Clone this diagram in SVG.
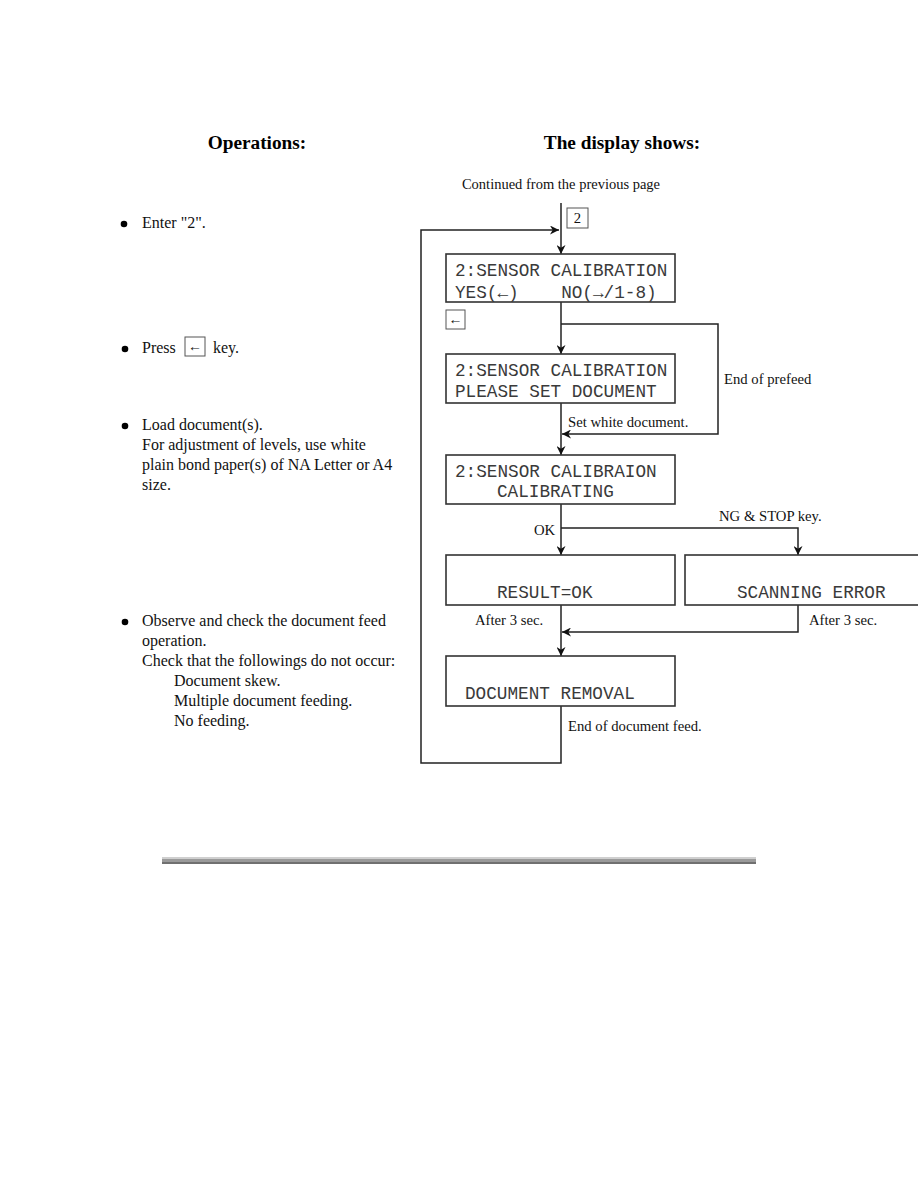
<svg xmlns="http://www.w3.org/2000/svg" width="918" height="1188" viewBox="0 0 918 1188">
<style>
.h{font-family:"Liberation Serif",serif;font-weight:bold;font-size:19.3px;fill:#000}
.t{font-family:"Liberation Serif",serif;font-size:16px;fill:#111}
.s{font-family:"Liberation Serif",serif;font-size:14.7px;fill:#111}
.m{font-family:"Liberation Mono",monospace;font-size:17.7px;fill:#3a3a3a;white-space:pre}
.box{fill:#fff;stroke:#333;stroke-width:1.6}
.key{fill:#fff;stroke:#555;stroke-width:1}
.ln{fill:none;stroke:#222;stroke-width:1.5}
</style>
<defs>
<marker id="ah" viewBox="0 0 10 10" refX="10" refY="5" markerWidth="10" markerHeight="9" markerUnits="userSpaceOnUse" orient="auto">
<path d="M0,0 L10,5 L0,10 L3,5 Z" fill="#111"/>
</marker>
</defs>
<rect width="918" height="1188" fill="#fff"/>
<g id="headers">
<text class="h" x="257" y="149" text-anchor="middle">Operations:</text>
<text class="h" x="622" y="149" text-anchor="middle">The display shows:</text>
<text class="s" x="561" y="189" text-anchor="middle" style="font-size:14.5px">Continued from the previous page</text>
</g>
<g id="operations">
<circle cx="124" cy="224" r="3.3" fill="#000"/>
<text class="t" x="142" y="228">Enter "2".</text>
<circle cx="125" cy="349" r="3.3" fill="#000"/>
<text class="t" x="142" y="353">Press</text>
<rect class="key" x="185" y="337" width="20" height="19"/>
<text class="t" x="195" y="351" text-anchor="middle" style="font-size:14px">←</text>
<text class="t" x="213" y="353">key.</text>
<circle cx="125" cy="426" r="3.3" fill="#000"/>
<text class="t" x="142" y="430">Load document(s).</text>
<text class="t" x="142" y="450">For adjustment of levels, use white</text>
<text class="t" x="142" y="470">plain bond paper(s) of NA Letter or A4</text>
<text class="t" x="142" y="490">size.</text>
<circle cx="125" cy="622" r="3.3" fill="#000"/>
<text class="t" x="142" y="626">Observe and check the document feed</text>
<text class="t" x="142" y="646">operation.</text>
<text class="t" x="142" y="666">Check that the followings do not occur:</text>
<text class="t" x="174" y="686">Document skew.</text>
<text class="t" x="174" y="706">Multiple document feeding.</text>
<text class="t" x="174" y="726">No feeding.</text>
</g>
<g id="connectors">
<line class="ln" x1="561" y1="203" x2="561" y2="254" marker-end="url(#ah)"/>
<polyline class="ln" points="561,706 561,763 421,763 421,230 559,230" marker-end="url(#ah)"/>
<line class="ln" x1="561" y1="302" x2="561" y2="354" marker-end="url(#ah)"/>
<polyline class="ln" points="561,324 718,324 718,434 562,434" marker-end="url(#ah)"/>
<line class="ln" x1="561" y1="403" x2="561" y2="455" marker-end="url(#ah)"/>
<line class="ln" x1="561" y1="504" x2="561" y2="555" marker-end="url(#ah)"/>
<polyline class="ln" points="561,528 798,528 798,555" marker-end="url(#ah)"/>
<line class="ln" x1="561" y1="605" x2="561" y2="656" marker-end="url(#ah)"/>
<polyline class="ln" points="798,605 798,632 562,632" marker-end="url(#ah)"/>
</g>
<g id="key2">
<rect class="key" x="567" y="208" width="21" height="20"/>
<text class="s" x="577.5" y="223" text-anchor="middle">2</text>
</g>
<g id="keyLeft">
<rect class="key" x="446" y="310" width="19" height="19"/>
<text class="s" x="455.5" y="324" text-anchor="middle" style="font-size:14px">←</text>
</g>
<g id="box1">
<rect class="box" x="446" y="254" width="229" height="48"/>
<text class="m" x="455" y="276">2:SENSOR CALIBRATION</text>
<text class="m" x="455" y="298">YES(←)    NO(→/1-8)</text>
</g>
<g id="box2">
<rect class="box" x="446" y="354" width="229" height="49"/>
<text class="m" x="455" y="376">2:SENSOR CALIBRATION</text>
<text class="m" x="455" y="397">PLEASE SET DOCUMENT</text>
</g>
<g id="box3">
<rect class="box" x="446" y="455" width="229" height="49"/>
<text class="m" x="455" y="477">2:SENSOR CALIBRAION</text>
<text class="m" x="497" y="497">CALIBRATING</text>
</g>
<g id="box4">
<rect class="box" x="446" y="555" width="229" height="50"/>
<text class="m" x="497" y="598">RESULT=OK</text>
</g>
<g id="box5">
<rect class="box" x="685" y="555" width="250" height="50"/>
<text class="m" x="737" y="598">SCANNING ERROR</text>
</g>
<g id="box6">
<rect class="box" x="446" y="656" width="229" height="50"/>
<text class="m" x="465" y="699">DOCUMENT REMOVAL</text>
</g>
<g id="labels">
<text class="s" x="724" y="384">End of prefeed</text>
<text class="s" x="568" y="427">Set white document.</text>
<text class="s" x="534" y="535">OK</text>
<text class="s" x="719" y="521">NG &amp; STOP key.</text>
<text class="s" x="475" y="625">After 3 sec.</text>
<text class="s" x="809" y="625">After 3 sec.</text>
<text class="s" x="568" y="731">End of document feed.</text>
</g>
<g id="rule">
<rect x="162" y="857" width="594" height="7" fill="#9a9a9a"/>
<rect x="162" y="857" width="594" height="2" fill="#cfcfcf"/>
<rect x="162" y="862" width="594" height="2" fill="#707070"/>
</g>
</svg>
